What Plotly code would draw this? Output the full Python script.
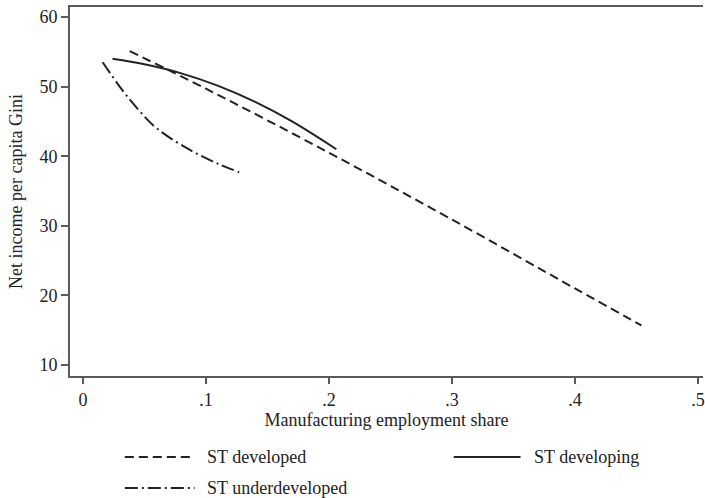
import plotly.graph_objects as go

# Fitted Gini curves by development group
series_names = ["ST developed", "ST developing", "ST underdeveloped"]

developed_x = [0.038, 0.10, 0.20, 0.30, 0.40, 0.454]
developed_y = [55.1, 49.7, 40.5, 30.9, 21.0, 15.7]

developing_x = [0.024, 0.05, 0.08, 0.11, 0.14, 0.17, 0.206]
developing_y = [54.0, 53.2, 51.9, 50.1, 47.8, 45.0, 41.0]

underdeveloped_x = [0.016, 0.032, 0.045, 0.060, 0.087, 0.110, 0.127]
underdeveloped_y = [53.5, 49.5, 46.7, 44.0, 40.9, 38.9, 37.7]

x_ticks = [0, 0.1, 0.2, 0.3, 0.4, 0.5]
x_tick_labels = ["0", ".1", ".2", ".3", ".4", ".5"]
y_ticks = [10, 20, 30, 40, 50, 60]

FONT = "Liberation Serif"
INK = "#222222"
AXIS = "#5a5a5a"
FS = 18

dash_styles = ["9px,5px", "solid", "13px,4px,2px,4px"]
xs = [developed_x, developing_x, underdeveloped_x]
ys = [developed_y, developing_y, underdeveloped_y]

fig = go.Figure()
for name, x, y, dash in zip(series_names, xs, ys, dash_styles):
    fig.add_trace(go.Scatter(
        x=x, y=y, name=name, mode="lines",
        line=dict(color=INK, width=2, dash=dash, shape="spline", smoothing=1.0),
        showlegend=False,
    ))

# Legend drawn below the axes: sample line + label for each series
legend_slots = [
    (0.0866, 0.1969, 0.2126, -0.2195),
    (0.6063, 0.7118, 0.7291, -0.2195),
    (0.0866, 0.1969, 0.2126, -0.3035),
]
for name, dash, (x0, x1, xt, yy) in zip(series_names, dash_styles, legend_slots):
    fig.add_shape(type="line", xref="paper", yref="paper",
                  x0=x0, x1=x1, y0=yy, y1=yy,
                  line=dict(color=INK, width=2, dash=dash))
    fig.add_annotation(xref="paper", yref="paper", x=xt, y=yy,
                       text=name, showarrow=False, xanchor="left", yanchor="middle",
                       font=dict(family=FONT, size=FS, color=INK))

fig.update_layout(
    width=705, height=498,
    margin=dict(l=70, r=0, t=7, b=122),
    paper_bgcolor="white", plot_bgcolor="white",
    font=dict(family=FONT, size=FS, color=INK),
    showlegend=False,
)
fig.update_xaxes(
    range=[-0.01054, 0.5041],
    tickvals=x_ticks, ticktext=x_tick_labels,
    ticks="outside", ticklen=6, tickwidth=1.5, tickcolor=AXIS,
    ticklabeloverflow="allow",
    showline=True, linecolor=AXIS, linewidth=2, mirror=True,
    showgrid=False, zeroline=False,
    tickfont=dict(family=FONT, size=FS, color=INK),
    title=dict(text="Manufacturing employment share", standoff=4,
               font=dict(family=FONT, size=FS, color=INK)),
)
fig.update_yaxes(
    range=[8.42, 61.44],
    tickvals=y_ticks,
    ticks="outside", ticklen=7, tickwidth=1.5, tickcolor=AXIS,
    showline=True, linecolor=AXIS, linewidth=2,
    showgrid=False, zeroline=False,
    tickfont=dict(family=FONT, size=FS, color=INK),
    title=dict(text="Net income per capita Gini", standoff=12,
               font=dict(family=FONT, size=FS, color=INK)),
)

fig.write_html("out.html")
